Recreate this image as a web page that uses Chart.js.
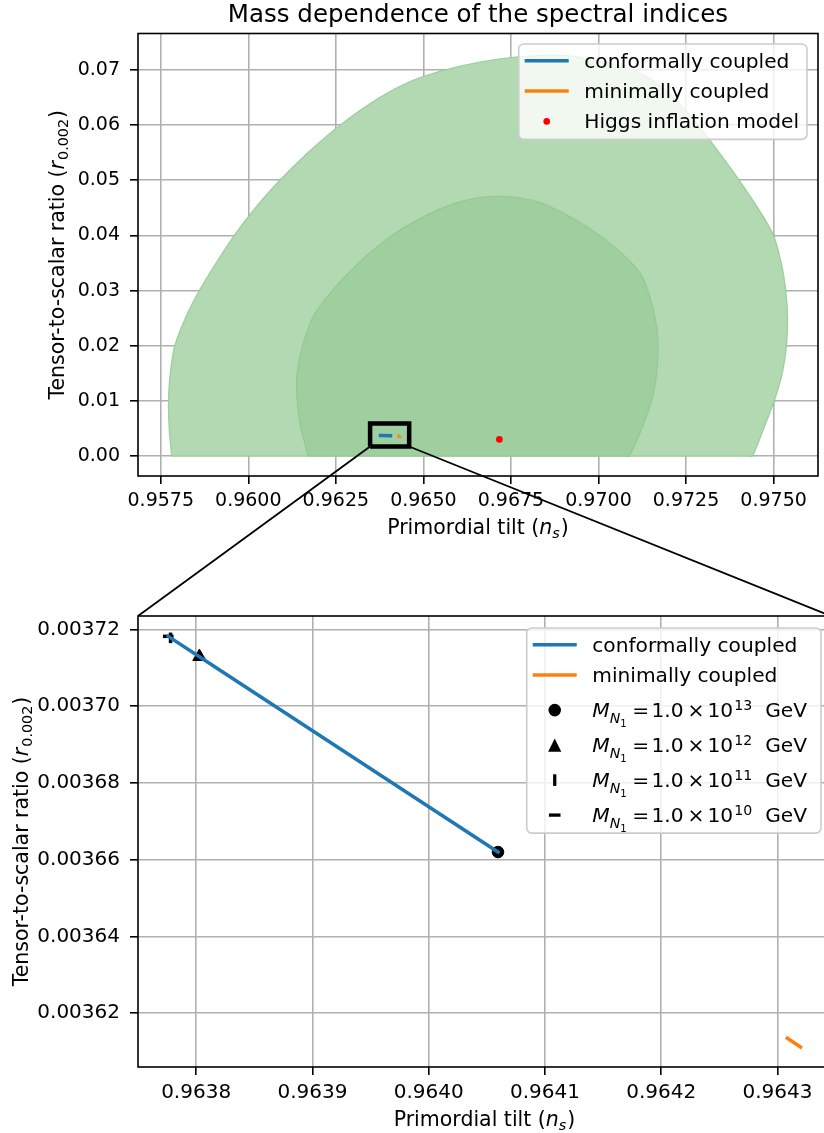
<!DOCTYPE html>
<html>
<head>
<meta charset="utf-8">
<script src="https://cdn.jsdelivr.net/npm/chart.js@4.4.0/dist/chart.umd.min.js"></script>
<style>
html,body{margin:0;padding:0;background:#fff;overflow:hidden;width:824px;height:1133px;}
#wrap{position:relative;width:824px;height:1133px;overflow:hidden;background:#fff;}
#b1{position:absolute;left:0;top:0;width:824px;height:560px;}
#b2{position:absolute;left:0;top:560px;width:845px;height:573px;}
#ov{position:absolute;left:0;top:0;z-index:5;pointer-events:none;}
canvas{display:block;}
</style>
</head>
<body>
<div id="wrap">
  <div id="b1"><canvas id="c1" width="824" height="560"></canvas></div>
  <div id="b2"><canvas id="c2" width="845" height="573"></canvas></div>
  <canvas id="ov" width="824" height="1133"></canvas>
</div>
<script>
// ---------------- data ----------------
const chartTitle = 'Mass dependence of the spectral indices';
const seriesLabels = ['conformally coupled', 'minimally coupled'];
const higgsLabel = 'Higgs inflation model';

// 95% (outer) and 68% (inner) constraint regions (ns, r), traced along the boundary
const outerNs = [0.95781,0.95774,0.95772,0.95777,0.95790,0.95820,0.95860,0.95908,0.95960,0.96020,0.96090,0.96170,0.96262,0.96375,0.96465,0.96560,0.96665,0.96770,0.96877,
                 0.96940,0.97010,0.97100,0.97160,0.97215,0.97285,0.97345,0.97402,0.97455,0.97500,0.97522,0.97535,0.97540,0.97537,0.97525,0.97502,0.97472,0.97440,0.97430,0.95790,0.95781];
const outerR  = [0,0.005,0.010,0.015,0.020,0.025,0.030,0.035,0.040,0.045,0.050,0.055,0.060,0.065,0.068,0.070,0.0715,0.0724,0.0727,
                 0.0724,0.0715,0.0700,0.0680,0.0650,0.0600,0.0550,0.0500,0.0450,0.0400,0.0350,0.0300,0.0250,0.0200,0.0150,0.0100,0.0050,0,0,0,0];
const innerNs = [0.96171,0.96146,0.96139,0.96180,0.96240,0.96315,0.96410,0.96520,0.96617,0.96717,0.96831,0.96969,0.97069,0.97126,0.97163,0.97170,0.97157,0.97126,0.97088,0.97078,0.96180,0.96171];
const innerR  = [0,0.0065,0.0149,0.0246,0.0300,0.0350,0.0400,0.0440,0.0463,0.0471,0.0460,0.0415,0.0366,0.0324,0.0246,0.0186,0.0113,0.0053,0,0,0,0];

// model curves
const confNs = [0.963776, 0.963778, 0.9638028, 0.9640596];
const confR  = [0.0037182, 0.0037178, 0.0037129, 0.0036620];
const minNs  = [0.9643085, 0.9643198];
const minR   = [0.0036135, 0.0036112];
const higgsNs = [0.96717];
const higgsR  = [0.00301];

// heavy neutrino masses (markers on the conformal curve)
const massMantissa = '1.0';
const massExp = [13, 12, 11, 10];
const massNs = [0.9640596, 0.9638028, 0.963778, 0.963776];
const massR  = [0.0036620, 0.0037129, 0.0037178, 0.0037182];

// zoom rectangle in the top panel
const rectNs = [0.963478, 0.964594];
const rectR  = [0.001723, 0.005894];

// axes
const topXTicks = [0.9575, 0.9600, 0.9625, 0.9650, 0.9675, 0.9700, 0.9725, 0.9750];
const topYTicks = [0.00, 0.01, 0.02, 0.03, 0.04, 0.05, 0.06, 0.07];
const botXTicks = [0.9638, 0.9639, 0.9640, 0.9641, 0.9642, 0.9643];
const botYTicks = [0.00362, 0.00364, 0.00366, 0.00368, 0.00370, 0.00372];
const topXRange = [0.95685, 0.976269];
const topYRange = [-0.00363, 0.07662];
const botXRange = [0.96375, 0.964346];
const botYRange = [0.0036060, 0.0037235];

// ---------------- helpers ----------------
const FAM = '"DejaVu Sans"';
const CONF_COLOR = '#1f77b4', MIN_COLOR = '#ff7f0e';

function pts(xs, ys) { return xs.map((x, i) => ({x: x, y: ys[i]})); }
function fontStr(s) { return (s.it ? 'italic ' : '') + s.size + 'px ' + FAM; }
function richWidth(ctx, segs) {
  let w = 0;
  for (const s of segs) { ctx.font = fontStr(s); w += (s.gl || 0) + ctx.measureText(s.t).width + (s.gr || 0); }
  return w;
}
function drawRich(ctx, segs, x, y) {
  ctx.textBaseline = 'alphabetic'; ctx.textAlign = 'left'; ctx.fillStyle = '#000';
  for (const s of segs) {
    x += s.gl || 0; ctx.font = fontStr(s);
    ctx.fillText(s.t, x, y + (s.dy || 0));
    x += ctx.measureText(s.t).width + (s.gr || 0);
  }
}
function plain(t, fs) { return [{t: t, size: fs}]; }
function massSegs(exp, fs) {
  return [
    {t: 'M', size: fs, it: true},
    {t: 'N', size: fs * 0.7, it: true, dy: fs * 0.32},
    {t: '1', size: fs * 0.5, dy: fs * 0.5},
    {t: '=', size: fs, gl: 5.5, gr: 2.4},
    {t: massMantissa, size: fs},
    {t: '\u00d7', size: fs, gl: 4, gr: 3},
    {t: '10', size: fs},
    {t: String(exp), size: fs * 0.7, dy: -fs * 0.34, gl: 1},
    {t: 'GeV', size: fs, gl: 13}
  ];
}
function xTitleSegs(fs) {
  return [{t: 'Primordial tilt (', size: fs}, {t: 'n', size: fs, it: true},
          {t: 's', size: fs * 0.7, it: true, dy: fs * 0.2}, {t: ')', size: fs, gl: 1}];
}
function yTitleSegs(fs) {
  return [{t: 'Tensor-to-scalar ratio (', size: fs}, {t: 'r', size: fs, it: true},
          {t: '0.002', size: fs * 0.7, dy: fs * 0.2, gl: 1}, {t: ')', size: fs, gl: 1}];
}
function roundRectPath(ctx, x, y, w, h, r) {
  ctx.beginPath(); ctx.moveTo(x + r, y);
  ctx.arcTo(x + w, y, x + w, y + h, r); ctx.arcTo(x + w, y + h, x, y + h, r);
  ctx.arcTo(x, y + h, x, y, r); ctx.arcTo(x, y, x + w, y, r); ctx.closePath();
}
function drawMarker(ctx, m, x, y) {
  ctx.save(); ctx.fillStyle = m.color; ctx.strokeStyle = m.color; ctx.lineWidth = m.bw || 1;
  ctx.beginPath();
  if (m.style === 'circle') { ctx.arc(x, y, m.r, 0, Math.PI * 2); ctx.fill(); }
  else if (m.style === 'triangle') { ctx.moveTo(x, y - m.r); ctx.lineTo(x + m.r, y + m.r); ctx.lineTo(x - m.r, y + m.r); ctx.closePath(); ctx.fill(); }
  else if (m.style === 'vbar') { ctx.moveTo(x, y - m.r); ctx.lineTo(x, y + m.r); ctx.stroke(); }
  else if (m.style === 'hbar') { ctx.moveTo(x - m.r, y); ctx.lineTo(x + m.r, y); ctx.stroke(); }
  ctx.restore();
}
function drawLegend(ctx, chart, L) {
  const a = chart.chartArea;
  let maxW = 0;
  L.items.forEach(it => { maxW = Math.max(maxW, richWidth(ctx, it.segs)); });
  const textX0 = L.padL + L.handleLen + L.gap;
  const w = textX0 + maxW + L.padR;
  const right = a.right - L.offX, left = right - w, top = a.top + L.offY;
  const bases = []; let b = top + L.firstBase;
  L.items.forEach((it, i) => { if (i > 0) b += it.math ? L.mathStep : L.textStep; bases.push(b); });
  const bottom = b + L.bottomPad;
  roundRectPath(ctx, left, top, w, bottom - top, 5);
  ctx.fillStyle = 'rgba(255,255,255,0.8)'; ctx.fill();
  ctx.strokeStyle = '#cccccc'; ctx.lineWidth = 1.6; ctx.stroke();
  L.items.forEach((it, i) => {
    const hy = bases[i] - L.handleRaise, hx0 = left + L.padL, hx = hx0 + L.handleLen / 2;
    if (it.kind === 'line') {
      ctx.beginPath(); ctx.moveTo(hx0, hy); ctx.lineTo(hx0 + L.handleLen, hy);
      ctx.strokeStyle = it.color; ctx.lineWidth = it.width; ctx.lineCap = 'butt'; ctx.stroke();
    } else {
      drawMarker(ctx, it.marker, hx, hy);
    }
    drawRich(ctx, it.segs, left + textX0, bases[i]);
  });
}
function makeDecor(cfg) {
  return {
    id: 'decor' + cfg.name,
    afterDraw(chart) {
      const ctx = chart.ctx, a = chart.chartArea;
      ctx.save();
      ctx.strokeStyle = '#000'; ctx.lineWidth = 1.6;
      ctx.strokeRect(a.left, a.top, a.right - a.left, a.bottom - a.top);
      if (cfg.title) {
        ctx.font = cfg.title.size + 'px ' + FAM; ctx.fillStyle = '#000';
        ctx.textAlign = 'center'; ctx.textBaseline = 'alphabetic';
        ctx.fillText(cfg.title.text, (a.left + a.right) / 2, cfg.title.baseline);
      }
      const xw = richWidth(ctx, cfg.xTitle);
      drawRich(ctx, cfg.xTitle, (a.left + a.right) / 2 - xw / 2, a.bottom + cfg.xTitleBase);
      const yw = richWidth(ctx, cfg.yTitle);
      ctx.save(); ctx.translate(cfg.yTitleX, (a.top + a.bottom) / 2); ctx.rotate(-Math.PI / 2);
      drawRich(ctx, cfg.yTitle, -yw / 2, 0); ctx.restore();
      drawLegend(ctx, chart, cfg.legend);
      ctx.restore();
    }
  };
}
function linScale(range, ticks, dec, fs, isX, fitSize, tickPad, z) {
  return {
    type: 'linear', min: range[0], max: range[1], position: isX ? 'bottom' : 'left', z: z,
    afterBuildTicks: s => { s.ticks = ticks.map(v => ({value: v})); },
    afterFit: s => { if (isX) s.height = fitSize; else s.width = fitSize; },
    ticks: {autoSkip: false, maxRotation: 0, minRotation: 0, padding: tickPad, color: '#000',
            font: {family: 'DejaVu Sans', size: fs}, callback: v => Number(v).toFixed(dec)},
    grid: {color: '#b0b0b0', lineWidth: 1.6, drawTicks: true, tickLength: 8, tickColor: '#000', tickWidth: 1.6},
    border: {display: false},
    title: {display: false}
  };
}

// ---------------- top chart ----------------
const dsConfTop = {type: 'line', label: seriesLabels[0], data: pts(confNs, confR), borderColor: CONF_COLOR,
  borderWidth: 3.5, borderCapStyle: 'square', pointRadius: 0, fill: false, order: 3};
const dsMinTop = {type: 'line', label: seriesLabels[1], data: pts(minNs, minR), borderColor: MIN_COLOR,
  borderWidth: 3.5, borderCapStyle: 'square', pointRadius: 0, fill: false, order: 2};
const dsHiggs = {type: 'scatter', label: higgsLabel, data: pts(higgsNs, higgsR), pointRadius: 3.3,
  pointBackgroundColor: '#ff0000', pointBorderColor: '#ff0000', pointBorderWidth: 0, order: 1};
const dsOuter = {type: 'line', label: 'outer', data: pts(outerNs, outerR), fill: 'shape', tension: 0.3,
  backgroundColor: 'rgb(178,217,178)', borderColor: 'rgba(140,200,140,0.8)', borderWidth: 1.2, pointRadius: 0, order: 10};
const dsInner = {type: 'line', label: 'inner', data: pts(innerNs, innerR), fill: 'shape', tension: 0.3,
  backgroundColor: 'rgb(159,207,159)', borderColor: 'rgba(140,200,140,0.8)', borderWidth: 1.2, pointRadius: 0, order: 9};
const dsRect = {type: 'line', label: 'zoom', fill: false, pointRadius: 0, borderColor: '#000', borderWidth: 4.5,
  borderJoinStyle: 'miter', order: 4,
  data: pts([rectNs[0], rectNs[1], rectNs[1], rectNs[0], rectNs[0]], [rectR[0], rectR[0], rectR[1], rectR[1], rectR[0]])};

const FS_LEG = 20.2;
const legendBase = {padL: 6, handleLen: 44, gap: 15.5, firstBase: 23.5, textStep: 30.3, mathStep: 35,
  bottomPad: 11.3, handleRaise: 6.7};

const chart1 = new Chart(document.getElementById('c1'), {
  type: 'scatter',
  data: {datasets: [dsOuter, dsInner, dsRect, dsConfTop, dsMinTop, dsHiggs]},
  options: {
    responsive: false, animation: false, devicePixelRatio: 1, events: [],
    layout: {padding: {left: 0, right: 6, top: 33.5, bottom: 0}},
    plugins: {legend: {display: false}, tooltip: {enabled: false}, title: {display: false}},
    scales: {
      x: linScale(topXRange, topXTicks, 4, 19, true, 84, 5.6, 1),
      y: linScale(topYRange, topYTicks, 2, 19, false, 138, 10, 1)
    }
  },
  plugins: [makeDecor({
    name: 'top',
    title: {text: chartTitle, size: 24.5, baseline: 22},
    xTitle: xTitleSegs(20.5), xTitleBase: 57.7,
    yTitle: yTitleSegs(20.5), yTitleX: 63.7,
    legend: Object.assign({}, legendBase, {offX: 11, offY: 10.5, padR: 8, items: [
      {kind: 'line', color: CONF_COLOR, width: 3.5, segs: plain(seriesLabels[0], FS_LEG)},
      {kind: 'line', color: MIN_COLOR, width: 3.5, segs: plain(seriesLabels[1], FS_LEG)},
      {kind: 'marker', marker: {style: 'circle', r: 3.3, color: '#ff0000'}, segs: plain(higgsLabel, FS_LEG)}
    ]})
  })]
});

// ---------------- bottom chart ----------------
const markerStyles = [
  {pointStyle: 'circle', pointRadius: 5.8, pointRotation: 0, pointBorderWidth: 1, legend: {style: 'circle', r: 6.3, color: '#000'}},
  {pointStyle: 'triangle', pointRadius: 7.6, pointRotation: 0, pointBorderWidth: 1, legend: {style: 'triangle', r: 6.6, color: '#000'}},
  {pointStyle: 'line', pointRadius: 5.3, pointRotation: 90, pointBorderWidth: 3.5, legend: {style: 'vbar', r: 5.8, bw: 3.3, color: '#000'}},
  {pointStyle: 'line', pointRadius: 5.3, pointRotation: 0, pointBorderWidth: 3.5, legend: {style: 'hbar', r: 5.8, bw: 3.3, color: '#000'}}
];
const massDatasets = massExp.map((e, i) => ({
  type: 'scatter', label: 'M_N1 = ' + massMantissa + ' x 10^' + e + ' GeV',
  data: [{x: massNs[i], y: massR[i]}],
  pointStyle: markerStyles[i].pointStyle, pointRadius: markerStyles[i].pointRadius,
  pointRotation: markerStyles[i].pointRotation, pointBorderWidth: markerStyles[i].pointBorderWidth,
  pointBackgroundColor: '#000', pointBorderColor: '#000', showLine: false, order: 2
}));
const dsConfBot = {type: 'line', label: seriesLabels[0], data: pts(confNs, confR), borderColor: CONF_COLOR,
  borderWidth: 3.5, borderCapStyle: 'square', pointRadius: 0, fill: false, order: 1};
const dsMinBot = {type: 'line', label: seriesLabels[1], data: pts(minNs, minR), borderColor: MIN_COLOR,
  borderWidth: 3.5, borderCapStyle: 'square', pointRadius: 0, fill: false, order: 1};

const chart2 = new Chart(document.getElementById('c2'), {
  type: 'scatter',
  data: {datasets: [dsConfBot, dsMinBot].concat(massDatasets)},
  options: {
    responsive: false, animation: false, devicePixelRatio: 1, events: [],
    layout: {padding: {left: 0, right: 14, top: 56, bottom: 0}},
    plugins: {legend: {display: false}, tooltip: {enabled: false}, title: {display: false}},
    scales: {
      x: linScale(botXRange, botXTicks, 4, 20, true, 66, 6, 0),
      y: linScale(botYRange, botYTicks, 5, 20, false, 138, 10, 0)
    }
  },
  plugins: [makeDecor({
    name: 'bot',
    xTitle: xTitleSegs(20.5), xTitleBase: 58.7,
    yTitle: yTitleSegs(20.5), yTitleX: 28.2,
    legend: Object.assign({}, legendBase, {offX: 10, offY: 12, padR: 14, items: [
      {kind: 'line', color: CONF_COLOR, width: 3.5, segs: plain(seriesLabels[0], FS_LEG)},
      {kind: 'line', color: MIN_COLOR, width: 3.5, segs: plain(seriesLabels[1], FS_LEG)}
    ].concat(massExp.map((e, i) => ({kind: 'marker', math: true, marker: markerStyles[i].legend, segs: massSegs(e, FS_LEG)}))) })
  })]
});

// ---------------- connector lines (zoom indication) ----------------
(function drawConnectors() {
  const ov = document.getElementById('ov').getContext('2d');
  const wr = document.getElementById('wrap').getBoundingClientRect();
  const r1 = chart1.canvas.getBoundingClientRect(), r2 = chart2.canvas.getBoundingClientRect();
  const xs = chart1.scales.x, ys = chart1.scales.y, a2 = chart2.chartArea;
  const yb = r1.top - wr.top + ys.getPixelForValue(rectR[0]);
  const pL = [r1.left - wr.left + xs.getPixelForValue(rectNs[0]), yb];
  const pR = [r1.left - wr.left + xs.getPixelForValue(rectNs[1]), yb];
  const qL = [r2.left - wr.left + a2.left, r2.top - wr.top + a2.top];
  const qR = [r2.left - wr.left + a2.right, r2.top - wr.top + a2.top];
  ov.strokeStyle = '#000'; ov.lineWidth = 1.8;
  ov.beginPath(); ov.moveTo(pL[0], pL[1]); ov.lineTo(qL[0], qL[1]);
  ov.moveTo(pR[0], pR[1]); ov.lineTo(qR[0], qR[1]); ov.stroke();
})();
</script>
</body>
</html>
